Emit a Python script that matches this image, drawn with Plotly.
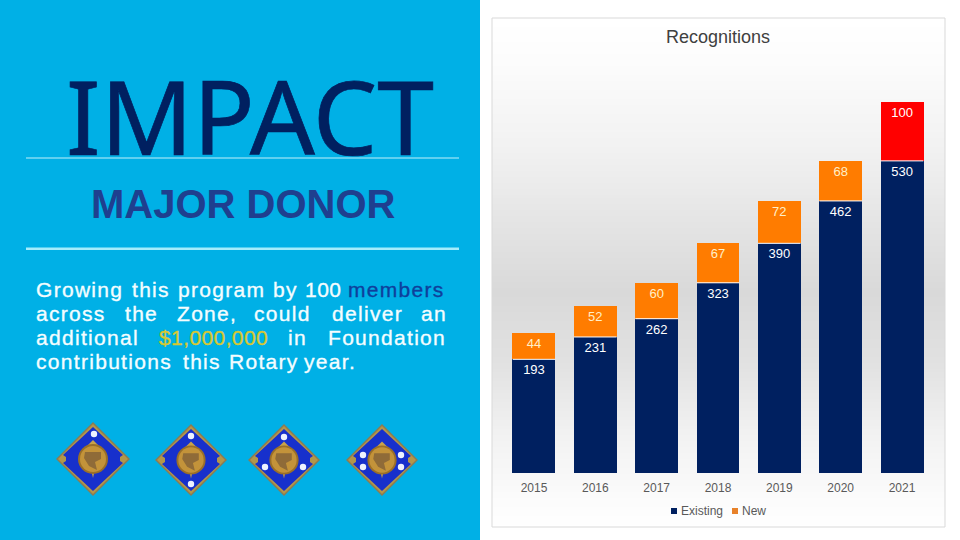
import plotly.graph_objects as go

# ---- data ----
years = ["2015", "2016", "2017", "2018", "2019", "2020", "2021"]
existing = [193, 231, 262, 323, 390, 462, 530]
new = [44, 52, 60, 67, 72, 68, 100]
chart_title = "Recognitions"
series_names = ["Existing", "New"]
heading = "IMPACT"
subheading = "MAJOR DONOR"
para_lines = [
    ["Growing", "this", "program", "by", "100", "members"],
    ["across", "the", "Zone,", "could", "deliver", "an"],
    ["additional", "$1,000,000", "in", "Foundation"],
    ["contributions", "this", "Rotary", "year."],
]

# ---- styling ----
W, H = 960, 540
NAVY, ORANGE, RED = "#002060", "#FF7C00", "#FF0000"
BLUE_BG = "#00B0E6"
new_colors = [RED if y == "2021" else ORANGE for y in years]
para_x = [
    [35, 131, 177, 272, 304, 347],
    [35, 124, 176, 253, 331, 420],
    [35, 158, 287, 327],
    [35, 182, 228, 303],
]
para_y = [289, 313, 337, 361]
word_color = {"members": "#0F3F9C", "$1,000,000": "#D8C832"}
word_spacing = {"$1,000,000": 0.4, "100": 0.5}


def px(x):
    return x / W


def py(y):
    return 1 - y / H


def rect(x0, y0, x1, y1, color, layer="below", line=None):
    return dict(type="rect", xref="paper", yref="paper", layer=layer,
                x0=px(x0), x1=px(x1), y0=py(y0), y1=py(y1), fillcolor=color,
                line=line or dict(width=0))


def poly(points, color, layer="below"):
    path = "M " + " L ".join(f"{px(a):.5f},{py(b):.5f}" for a, b in points) + " Z"
    return dict(type="path", xref="paper", yref="paper", layer=layer, path=path,
                fillcolor=color, line=dict(width=0))


def circle(cx, cy, r, color, layer="below"):
    return dict(type="circle", xref="paper", yref="paper", layer=layer,
                x0=px(cx - r), x1=px(cx + r), y0=py(cy + r), y1=py(cy - r),
                fillcolor=color, line=dict(width=0))


def grey_at(y):
    stops = [(18, 255), (60, 252), (150, 241), (240, 225), (290, 217),
             (360, 225), (430, 241), (500, 252), (527, 255)]
    for (a, va), (b, vb) in zip(stops, stops[1:]):
        if a <= y <= b:
            return round(va + (vb - va) * (y - a) / (b - a))
    return 255


shapes = [rect(0, 0, 480, 540, BLUE_BG)]
# panel gradient
for y in range(18, 527, 3):
    g = grey_at(y)
    shapes.append(rect(492, y, 945, min(y + 3, 527), f"rgb({g},{g},{g})"))
shapes.append(rect(492, 18, 945, 527, "rgba(0,0,0,0)",
                   line=dict(color="#D9D9D9", width=1)))
# rules on the left
shapes.append(rect(26, 157.6, 459, 158.6, "#BFEFFA"))
shapes.append(rect(26, 247.5, 459, 250, "#A5ECFB"))
# legend swatches
shapes.append(rect(671, 508, 677, 514, NAVY, layer="above"))
shapes.append(rect(732, 508, 738, 514, "#E8822A", layer="above"))


def medallion(cx, cy, h, dots):
    s = h / 37
    out = [
        poly([(cx, cy - h), (cx + h, cy), (cx, cy + h), (cx - h, cy)], "#8B7B52"),
        poly([(cx, cy - h + 2), (cx + h - 2, cy), (cx, cy + h - 2), (cx - h + 2, cy)], "#B3964A"),
    ]
    n = h - 5
    out.append(poly([(cx, cy - n), (cx + n - 2, cy - 4), (cx + n - 5, cy - 2), (cx + n - 5, cy + 2),
                     (cx + n - 2, cy + 4), (cx, cy + n), (cx - n + 2, cy + 4), (cx - n + 5, cy + 2),
                     (cx - n + 5, cy - 2), (cx - n + 2, cy - 4)], "#1730CC"))
    out.append(poly([(cx, cy - 19 * s), (cx + 7 * s, cy - 12 * s), (cx, cy + 19 * s), (cx - 7 * s, cy - 12 * s)], "#C9A24A"))
    out.append(circle(cx, cy, 15 * s, "#9A6F28"))
    out.append(circle(cx, cy, 13 * s, "#C3933A"))
    out.append(poly([(cx - 8 * s, cy - 7 * s), (cx + 8 * s, cy - 7 * s), (cx + 8 * s, cy),
                     (cx + 2 * s, cy + 3 * s), (cx + 4 * s, cy + 11 * s), (cx - 4 * s, cy + 7 * s),
                     (cx - 9 * s, cy - 1 * s)], "#8F6B38"))
    for dx, dy in dots:
        out.append(circle(cx + dx, cy + dy, 3.2, "#EEF2FF"))
    return out


shapes += medallion(93, 459, 37, [(1, -25)])
shapes += medallion(191, 460, 36, [(0, -24), (0, 24)])
shapes += medallion(284, 460, 36, [(0, -23), (-19, 7), (19, 7)])
shapes += medallion(382, 460, 36, [(-19, -5), (19, -5), (-19, 7), (19, 7)])

annotations = [
    dict(text=f'<span style="stroke:{NAVY};stroke-width:0.7px">{heading}</span>', x=px(250), y=py(115),
         font=dict(family="Noto Sans", size=102, color=NAVY)),
    dict(text=f"<b>{subheading}</b>", x=px(243), y=py(204),
         font=dict(family="Liberation Sans", size=40, color="#1F3F8F")),
]
for words, xs, y in zip(para_lines, para_x, para_y):
    for word, x in zip(words, xs):
        col = word_color.get(word, "#F4FDFF")
        sp = word_spacing.get(word, 1.3)
        annotations.append(dict(
            text=f'<span style="letter-spacing:{sp}px;stroke:{col};stroke-width:0.35px">{word}</span>',
            x=px(x), y=py(y), xanchor="left",
            font=dict(family="Liberation Sans", size=21, color=col)))
annotations += [
    dict(text=series_names[0], x=px(680), y=py(511), xanchor="left",
         font=dict(family="Liberation Sans", size=12, color="#595959")),
    dict(text=series_names[1], x=px(741), y=py(511), xanchor="left",
         font=dict(family="Liberation Sans", size=12, color="#595959")),
]
for a in annotations:
    a.update(xref="paper", yref="paper", showarrow=False, borderpad=0)
    a.setdefault("xanchor", "center")
    a.setdefault("yanchor", "middle")

fig = go.Figure()
fig.add_bar(x=years, y=existing, name=series_names[0], marker=dict(color=NAVY, line=dict(width=0)),
            text=existing, textposition="inside", insidetextanchor="end", textangle=0,
            textfont=dict(family="Liberation Sans", size=13, color="#FFFFFF"))
fig.add_bar(x=years, y=new, name=series_names[1], marker=dict(color=new_colors, line=dict(width=0)),
            text=new, textposition="inside", insidetextanchor="end", textangle=0,
            textfont=dict(family="Liberation Sans", size=13,
                          color=["#FFFFFF" if c == RED else "#FFEFC8" for c in new_colors]))
# thin white separator where the two segments meet
fig.add_scatter(x=years, y=existing, mode="markers", hoverinfo="skip", showlegend=False,
                marker=dict(symbol="line-ew", size=30.4, line=dict(color="#FFFFFF", width=1)))

fig.update_layout(
    width=W, height=H, autosize=False,
    barmode="stack", bargap=0.30, showlegend=False,
    margin=dict(l=0, r=0, t=0, b=0),
    paper_bgcolor="#FFFFFF", plot_bgcolor="rgba(0,0,0,0)",
    font=dict(family="Liberation Sans"),
    title=dict(text=chart_title, x=px(718), xref="paper", xanchor="center",
               y=py(37), yref="paper", yanchor="middle",
               font=dict(family="Liberation Sans", size=18, color="#404040")),
    xaxis=dict(domain=[px(503.3), px(932.7)], type="category", range=[-0.5, 6.5],
               showgrid=False, zeroline=False,
               showline=False, ticks="outside", ticklen=4, tickcolor="rgba(0,0,0,0)",
               tickfont=dict(family="Liberation Sans", size=12, color="#595959")),
    yaxis=dict(domain=[py(473), py(102)], range=[0, 630], visible=False),
    shapes=shapes, annotations=annotations,
)
fig.write_html("out.html", config=dict(displayModeBar=False),
               post_script="document.body.style.margin='0';document.documentElement.style.overflow='hidden';")
